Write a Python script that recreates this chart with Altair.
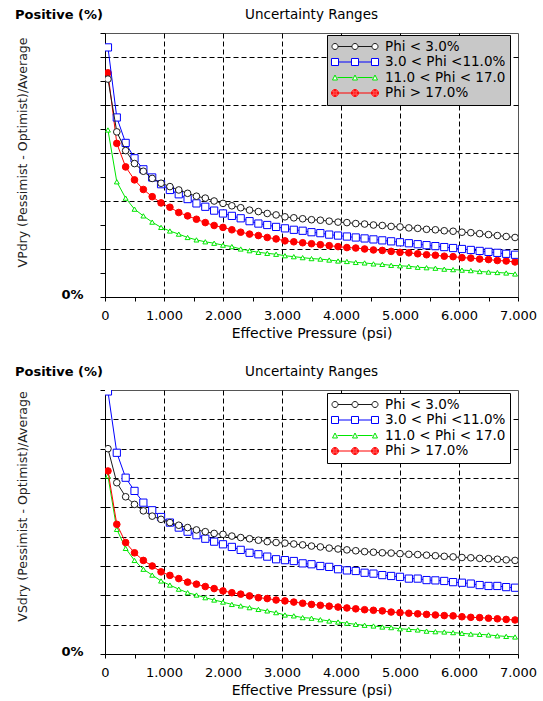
import altair as alt
import pandas as pd

# ---------------- data ----------------
PRESSURE = [50, 200, 350, 500, 650, 800, 950, 1100, 1250, 1400, 1550, 1700, 1850, 2000,
            2150, 2300, 2450, 2600, 2750, 2900, 3050, 3200, 3350, 3500, 3650, 3800, 3950,
            4100, 4250, 4400, 4550, 4700, 4850, 5000, 5150, 5300, 5450, 5600, 5750, 5900,
            6050, 6200, 6350, 6500, 6650, 6800, 6950]

SERIES = ["Phi < 3.0%", "3.0 < Phi <11.0%", "11.0 < Phi < 17.0", "Phi > 17.0%"]

# top panel (VPdry), grid units
VP_PHI_LT3 = [4.54, 3.44, 3.05, 2.78, 2.62, 2.47, 2.37, 2.30, 2.23, 2.16, 2.10, 2.06, 2.00, 1.95,
              1.90, 1.86, 1.81, 1.78, 1.74, 1.71, 1.67, 1.65, 1.63, 1.61, 1.60, 1.58, 1.56,
              1.55, 1.53, 1.52, 1.50, 1.49, 1.47, 1.46, 1.44, 1.43, 1.41, 1.40, 1.38, 1.37,
              1.35, 1.34, 1.32, 1.30, 1.28, 1.26, 1.24]
VP_PHI_3_11 = [5.20, 3.74, 3.21, 2.89, 2.66, 2.49, 2.35, 2.23, 2.14, 2.04, 1.95, 1.88, 1.80, 1.74,
               1.69, 1.64, 1.58, 1.53, 1.50, 1.46, 1.43, 1.40, 1.38, 1.35, 1.33, 1.30, 1.28,
               1.26, 1.24, 1.22, 1.20, 1.18, 1.16, 1.14, 1.12, 1.10, 1.08, 1.06, 1.04, 1.02,
               1.00, 0.98, 0.96, 0.94, 0.92, 0.90, 0.88]
VP_PHI_11_17 = [3.48, 2.40, 2.06, 1.83, 1.69, 1.56, 1.45, 1.375, 1.31, 1.24, 1.19, 1.15, 1.12, 1.08,
                1.05, 1.00, 0.965, 0.93, 0.91, 0.89, 0.86, 0.84, 0.82, 0.80, 0.79, 0.77, 0.75,
                0.74, 0.72, 0.71, 0.69, 0.68, 0.66, 0.65, 0.64, 0.62, 0.61, 0.60, 0.58, 0.57,
                0.56, 0.55, 0.53, 0.52, 0.51, 0.50, 0.48]
VP_PHI_GT17 = [4.67, 3.20, 2.71, 2.44, 2.24, 2.09, 1.96, 1.87, 1.76, 1.69, 1.62, 1.55, 1.49, 1.45,
               1.40, 1.35, 1.31, 1.28, 1.24, 1.21, 1.17, 1.15, 1.13, 1.11, 1.09, 1.07, 1.05,
               1.03, 1.02, 1.00, 0.98, 0.97, 0.95, 0.93, 0.92, 0.90, 0.88, 0.87, 0.85, 0.84,
               0.82, 0.81, 0.79, 0.78, 0.76, 0.75, 0.73]

# bottom panel (VSdry), grid units
VS_PHI_LT3 = [7.00, 5.84, 5.36, 5.10, 4.88, 4.70, 4.59, 4.48, 4.39, 4.31, 4.23, 4.17, 4.11, 4.08,
              4.02, 3.97, 3.93, 3.88, 3.83, 3.80, 3.78, 3.75, 3.72, 3.68, 3.65, 3.61, 3.58,
              3.55, 3.52, 3.49, 3.47, 3.45, 3.44, 3.42, 3.40, 3.39, 3.37, 3.35, 3.33, 3.31,
              3.29, 3.28, 3.26, 3.25, 3.23, 3.21, 3.19]
VS_PHI_3_11 = [8.95, 6.86, 6.01, 5.56, 5.16, 4.90, 4.67, 4.48, 4.31, 4.17, 4.05, 3.93, 3.83, 3.74,
               3.65, 3.55, 3.45, 3.40, 3.32, 3.23, 3.20, 3.17, 3.09, 3.06, 3.00, 2.97, 2.89,
               2.85, 2.83, 2.77, 2.74, 2.69, 2.66, 2.63, 2.57, 2.57, 2.52, 2.51, 2.49, 2.45,
               2.43, 2.40, 2.35, 2.32, 2.32, 2.28, 2.26]
VS_PHI_11_17 = [6.07, 4.25, 3.60, 3.19, 2.89, 2.69, 2.49, 2.35, 2.21, 2.09, 2.01, 1.92, 1.84, 1.77,
                1.69, 1.64, 1.58, 1.52, 1.47, 1.41, 1.33, 1.30, 1.24, 1.22, 1.17, 1.125, 1.09,
                1.05, 1.01, 0.98, 0.955, 0.92, 0.90, 0.86, 0.84, 0.82, 0.78, 0.76, 0.75, 0.73,
                0.705, 0.68, 0.67, 0.65, 0.62, 0.60, 0.58]
VS_PHI_GT17 = [6.24, 4.42, 3.80, 3.45, 3.19, 3.00, 2.80, 2.68, 2.57, 2.45, 2.38, 2.30, 2.23, 2.15,
               2.09, 2.04, 1.98, 1.92, 1.89, 1.84, 1.81, 1.77, 1.73, 1.69, 1.66, 1.63, 1.60,
               1.57, 1.54, 1.51, 1.49, 1.47, 1.43, 1.41, 1.39, 1.37, 1.35, 1.33, 1.31, 1.30,
               1.27, 1.25, 1.24, 1.22, 1.20, 1.18, 1.16]

X_TICKS = [0, 500, 1000, 1500, 2000, 2500, 3000, 3500, 4000, 4500, 5000, 5500, 6000, 6500, 7000]
Y_TICKS_TOP = [0, 0.5, 1, 1.5, 2, 2.5, 3, 3.5, 4, 4.5, 5, 5.5]
Y_TICKS_BOTTOM = [0, 1, 2, 3, 4, 5, 6, 7, 8, 9]

TITLE = "Uncertainty Ranges"
CORNER_LABEL = "Positive (%)"

# ---------------- styles ----------------
FONT = "DejaVu Sans"
COLORS = ["#1a1a1a", "#0000ff", "#00e600", "#ff0000"]
SHAPES = ["circle", "square", "triangle-up", "circle"]
FILLS = ["#ffffff", "#ffffff", "#ffffff", "#ff0000"]
SIZES = [44, 52, 24, 44]
W, H = 413, 264


def _circle(cx, r):
    return (f"M{cx - r:.3f},0A{r:.3f},{r:.3f} 0 1,0 {cx + r:.3f},0"
            f"A{r:.3f},{r:.3f} 0 1,0 {cx - r:.3f},0Z")


def legend_path(kind):
    c = 0.851
    if kind == "circle":
        m = 0.128
        marks = "".join(_circle(x, m) for x in (-c, 0, c))
    elif kind == "square":
        m = 0.149
        marks = "".join(f"M{x - m:.3f},{-m:.3f}H{x + m:.3f}V{m:.3f}H{x - m:.3f}Z" for x in (-c, 0, c))
    elif kind == "triangle":
        m = 0.106
        marks = "".join(f"M{x:.3f},{-m:.3f}L{x + m:.3f},{m:.3f}L{x - m:.3f},{m:.3f}Z" for x in (-c, 0, c))
    else:  # filled circle drawn as dense rings
        m = 0.149
        marks = "".join(_circle(x, r) for x in (-c, 0, c) for r in (0.149, 0.115, 0.08, 0.045, 0.012))
    line = f"M{-c + m:.3f},0H{-m:.3f}M{m:.3f},0H{c - m:.3f}"
    return line + marks


LEGEND_PATHS = [legend_path("circle"), legend_path("square"),
                legend_path("triangle"), legend_path("filled")]


def panel(values, y_max, y_ticks, y_title, title_y, legend_fill, legend_y):
    rows = []
    for s, vals in zip(SERIES, values):
        for p, v in zip(PRESSURE, vals):
            rows.append({"pressure": p, "value": v, "series": s})
    df = pd.DataFrame(rows)

    x_enc = alt.X(
        "pressure:Q",
        scale=alt.Scale(domain=[0, 7000], nice=False),
        axis=alt.Axis(
            values=X_TICKS,
            labelExpr="datum.value % 1000 == 0 ? (datum.value == 0 ? '0' : (datum.value / 1000) + '.000') : ''",
            title="Effective Pressure (psi)",
            grid=True, gridColor="black", gridDash=[5, 3], gridWidth=1,
            gridOpacity={"condition": {"test": "datum.value % 1000 == 0 && datum.value > 0 && datum.value < 7000",
                                       "value": 1}, "value": 0},
            tickColor="black", tickSize=4, tickWidth=1,
            domainColor="black", domainWidth=1,
            labelFlush=False, labelOverlap=False, labelBound=False,
            labelPadding=8, labelFont=FONT, labelFontSize=13, labelColor="black",
            titleFont=FONT, titleFontSize=14, titleFontWeight="normal", titleColor="black",
            titlePadding=4,
        ),
    )
    y_enc = alt.Y(
        "value:Q",
        scale=alt.Scale(domain=[0, y_max], nice=False, zero=True),
        axis=alt.Axis(
            values=y_ticks,
            labelExpr="datum.value == 0 ? '0%' : ''",
            title=y_title,
            grid=True, gridColor="black", gridDash=[5, 3], gridWidth=1,
            gridOpacity={"condition": {"test": f"datum.value % 1 == 0 && datum.value > 0 && datum.value < {y_max}",
                                       "value": 1}, "value": 0},
            tickColor="black", tickSize=5, tickWidth=1,
            domainColor="black", domainWidth=1,
            labelOverlap=False, labelBound=False,
            labelPadding=17, labelFont=FONT, labelFontSize=13, labelFontWeight="bold",
            labelColor="black", labelOffset=-3,
            titleFont=FONT, titleFontSize=12.5, titleFontWeight="normal", titleColor="#222222",
            titleX=-83, titleY=title_y, titleAngle=270, titleAlign="center", titleBaseline="middle",
        ),
    )

    base = alt.Chart(df)
    layers = []
    for i in [2, 3, 1, 0]:
        s = SERIES[i]
        sub = base.transform_filter(alt.datum.series == s)
        layers.append(sub.mark_line(color=COLORS[i], strokeWidth=1, clip=True).encode(x=x_enc, y=y_enc))
        layers.append(sub.mark_point(shape=SHAPES[i], filled=True, fill=FILLS[i], stroke=COLORS[i],
                                     strokeWidth=1, size=SIZES[i], opacity=1, clip=True)
                      .encode(x=x_enc, y=y_enc))

    legend = alt.Legend(
        orient="none", legendX=222, legendY=legend_y, title=None,
        symbolSize=2209, clipHeight=15, padding=4, rowPadding=0.5,
        fillColor=legend_fill, strokeColor="black",
        labelFont=FONT, labelFontSize=13.5, labelColor="black",
        symbolStrokeWidth=1, labelOffset=6,
    )
    legend_layer = base.transform_filter("false").mark_point(opacity=1, fill="#ffffff", filled=False).encode(
        x=x_enc, y=y_enc,
        color=alt.Color("series:N", scale=alt.Scale(domain=SERIES, range=COLORS), legend=legend),
        shape=alt.Shape("series:N", scale=alt.Scale(domain=SERIES, range=LEGEND_PATHS), legend=legend),
    )
    layers.append(legend_layer)

    texts = pd.DataFrame({"t": [CORNER_LABEL, TITLE]})
    corner = alt.Chart(texts).transform_filter(alt.datum.t == CORNER_LABEL).mark_text(
        font=FONT, fontSize=13, fontWeight="bold", color="black", align="center", baseline="middle"
    ).encode(text="t:N", x=alt.value(-46), y=alt.value(-18))
    title = alt.Chart(texts).transform_filter(alt.datum.t == TITLE).mark_text(
        font=FONT, fontSize=13.5, fontWeight="normal", color="black", align="center", baseline="middle"
    ).encode(text="t:N", x=alt.value(W / 2), y=alt.value(-18))
    layers += [corner, title]

    return alt.layer(*layers).properties(width=W, height=H)


top = panel([VP_PHI_LT3, VP_PHI_3_11, VP_PHI_11_17, VP_PHI_GT17], 5.5, Y_TICKS_TOP,
            "VPdry (Pessimist - Optimist)/Average", 119, "#c8c8c8", 2)
bottom = panel([VS_PHI_LT3, VS_PHI_3_11, VS_PHI_11_17, VS_PHI_GT17], 9, Y_TICKS_BOTTOM,
               "VSdry (Pessimist - Optimist)/Average", 116, "#ffffff", 3)

chart = (
    alt.vconcat(top, bottom, spacing=23)
    .resolve_scale(color="independent", shape="independent", x="independent", y="independent")
    .resolve_legend(color="independent", shape="independent")
    .properties(padding={"left": 14, "top": 7, "right": 0, "bottom": 0}, background="white")
    .configure_view(stroke="#555555", strokeWidth=1)
)

chart.save("out.html", embed_options={"renderer": "svg", "actions": False})
